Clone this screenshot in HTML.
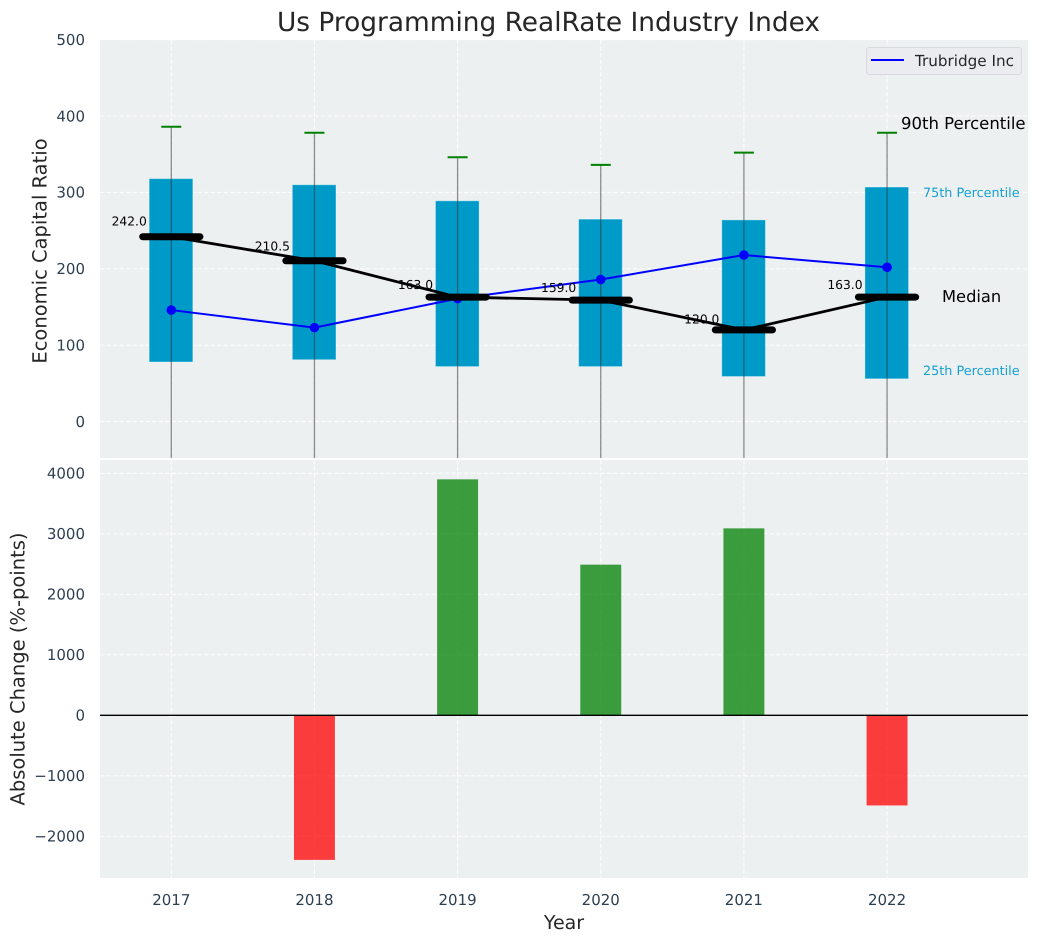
<!DOCTYPE html>
<html lang="en">
<head>
<meta charset="utf-8">
<title>Us Programming RealRate Industry Index</title>
<style>
html,body{margin:0;padding:0;background:#fff;width:1039px;height:942px;overflow:hidden}
svg{display:block;font-family:"DejaVu Sans","Liberation Sans",sans-serif;text-rendering:geometricPrecision}
</style>
</head>
<body>
<svg id="chart" xmlns="http://www.w3.org/2000/svg" width="1039" height="942" viewBox="0 0 1039 942"></svg>
<script>
const years = [2017, 2018, 2019, 2020, 2021, 2022];
const p90 = [386, 378, 346, 336, 352, 378];
const p75 = [318, 310, 289, 265, 264, 307];
const medians = [242, 210.5, 163, 159, 120, 163];
const p25 = [78, 81, 72, 72, 59, 56];
const p10 = [-60, -60, -60, -60, -60, -60];
const company = [146, 123, 161, 186, 218, 202];
const changes = [0, -2390, 3900, 2490, 3090, -1490];
const topTicks = [0, 100, 200, 300, 400, 500];
const bottomTicks = [-2000, -1000, 0, 1000, 2000, 3000, 4000];

const NS = 'http://www.w3.org/2000/svg';
const svg = document.getElementById('chart');
function make(tag, attrs, parent, text) {
  const el = document.createElementNS(NS, tag);
  for (const k in attrs) el.setAttribute(k, attrs[k]);
  if (text !== undefined) el.textContent = text;
  (parent || svg).appendChild(el);
  return el;
}
const TOP = {l: 100, r: 1028, t: 40, b: 458};
const BOT = {l: 100, r: 1028, t: 460, b: 878};
const xScale = v => 171.3 + (v - 2017) * 143.15;
const yTop = v => 421.6 - v * 0.764;
const yBot = v => 715.3 - v * 0.0605;
const TICK = '#2c3e50';

const topClip = make('clipPath', {id: 'clip-top'});
make('rect', {x: TOP.l, y: TOP.t, width: TOP.r - TOP.l, height: TOP.b - TOP.t}, topClip);

function panel(box, name, ticks, yFn, fmt) {
  const g = make('g', {});
  
  
  const bg = make('rect', {x: box.l, y: box.t, width: box.r - box.l, height: box.b - box.t, fill: '#ecf0f1'}, g);
  
  
  ticks.forEach(t => {
    const line = make('line', {x1: box.l, x2: box.r, y1: yFn(t), y2: yFn(t), stroke: '#fff', 'stroke-width': 1.1, 'stroke-dasharray': '4.5 2', 'stroke-opacity': 0.85}, g);
    
    
    const label = make('text', {x: 85, y: yFn(t) + 5.3, 'text-anchor': 'end', 'font-size': 15, fill: TICK}, g, fmt(t));
    
    
  });
  years.forEach(y => {
    const line = make('line', {x1: xScale(y), x2: xScale(y), y1: box.t, y2: box.b, stroke: '#fff', 'stroke-width': 1.1, 'stroke-dasharray': '4.5 2', 'stroke-opacity': 0.85}, g);
    
    
  });
  return g;
}
const fmtTick = t => String(t).replace('-', '\u2212');
panel(TOP, 'percentile-panel', topTicks, yTop, fmtTick);
panel(BOT, 'change-panel', bottomTicks, yBot, fmtTick);

/* Boxes */
const BOX_W = 0.305;
years.forEach((y, i) => {
  const box = make('rect', {
    x: xScale(y - BOX_W / 2) - 0.3, width: xScale(BOX_W) - xScale(0),
    y: yTop(p75[i]), height: yTop(p25[i]) - yTop(p75[i]),
    fill: '#009ac9', stroke: '#ffffff', 'stroke-opacity': 0.35, 'stroke-width': 1
  });
  
  
});
/* Whiskers and caps */
years.forEach((y, i) => {
  const w = make('line', {x1: xScale(y), x2: xScale(y), y1: yTop(p90[i]), y2: yTop(p10[i]), stroke: '#333', 'stroke-opacity': 0.55, 'stroke-width': 1.3, 'clip-path': 'url(#clip-top)'});
  
  
  const c = make('line', {x1: xScale(y) - 10, x2: xScale(y) + 10, y1: yTop(p90[i]), y2: yTop(p90[i]), stroke: 'green', 'stroke-width': 2});
  
  
});
/* Company series */
const companyLine = make('polyline', {points: years.map((y, i) => xScale(y) + ',' + yTop(company[i])).join(' '), fill: 'none', stroke: '#0000ff', 'stroke-width': 2});


years.forEach((y, i) => {
  const p = make('circle', {cx: xScale(y), cy: yTop(company[i]), r: 4.8, fill: '#0000ff'});
  
  
});
/* Median */
const medianLine = make('polyline', {points: years.map((y, i) => xScale(y) + ',' + yTop(medians[i])).join(' '), fill: 'none', stroke: '#000', 'stroke-width': 2.8});


years.forEach((y, i) => {
  const m = make('line', {x1: xScale(y) - 28.6, x2: xScale(y) + 28.6, y1: yTop(medians[i]), y2: yTop(medians[i]), stroke: '#000', 'stroke-width': 7, 'stroke-linecap': 'round'});
  
  
  const t = make('text', {x: xScale(y) - 24.5, y: yTop(medians[i] * 1.055 + 7.5) + 4.5, 'text-anchor': 'end', 'font-size': 12.3, fill: '#000'}, svg, medians[i].toFixed(1));
  
  
});
/* Change bars */
const BAR_W = 0.286;
years.forEach((y, i) => {
  if (changes[i] === 0) return;
  const v = changes[i];
  const bar = make('rect', {
    x: xScale(y - BAR_W / 2), width: xScale(BAR_W) - xScale(0),
    y: Math.min(yBot(v), yBot(0)), height: Math.abs(yBot(v) - yBot(0)),
    fill: v > 0 ? '#008000' : '#ff0000', 'fill-opacity': 0.75
  });
  
  
});
const zero = make('line', {x1: BOT.l, x2: BOT.r, y1: yBot(0), y2: yBot(0), stroke: '#000', 'stroke-width': 1.4});


/* X tick labels */
years.forEach(y => {
  const t = make('text', {x: xScale(y), y: 905, 'text-anchor': 'middle', 'font-size': 15, fill: TICK}, svg, String(y));
  
  
});
</script>
<script>
(function () {
  const s = document.getElementById('chart');
  function label(name, attrs, text) {
    const el = document.createElementNS('http://www.w3.org/2000/svg', 'text');
    for (const k in attrs) el.setAttribute(k, attrs[k]);
    el.textContent = text;
    
    
    s.appendChild(el);
  }
  label('chart-title', {x: 548.5, y: 31, 'text-anchor': 'middle', 'font-size': 26.4, fill: '#262626'}, 'Us Programming RealRate Industry Index');
  label('x-axis-title', {x: 564, y: 929, 'text-anchor': 'middle', 'font-size': 19, fill: '#262626'}, 'Year');
  label('y-axis-title-top', {transform: 'translate(46.5,251) rotate(-90)', 'text-anchor': 'middle', 'font-size': 19.5, fill: '#262626'}, 'Economic Capital Ratio');
  label('y-axis-title-bottom', {transform: 'translate(24.5,669) rotate(-90)', 'text-anchor': 'middle', 'font-size': 19.5, fill: '#262626'}, 'Absolute Change (%-points)');
  label('p90-annotation', {x: 901, y: 129, 'font-size': 16.5, fill: '#000'}, '90th Percentile');
  label('p75-annotation', {x: 923, y: 197, 'font-size': 12.8, fill: '#14a0d0'}, '75th Percentile');
  label('median-annotation', {x: 942, y: 302, 'font-size': 16.3, fill: '#000'}, 'Median');
  label('p25-annotation', {x: 923, y: 375, 'font-size': 12.8, fill: '#14a0d0'}, '25th Percentile');
  const NSP = 'http://www.w3.org/2000/svg';
  const g = document.createElementNS(NSP, 'g');
  
  
  s.appendChild(g);
  const r = document.createElementNS(NSP, 'rect');
  r.setAttribute('x', 866.5); r.setAttribute('y', 47.5); r.setAttribute('width', 155); r.setAttribute('height', 27);
  r.setAttribute('rx', 2.5); r.setAttribute('fill', '#eaecf0'); r.setAttribute('stroke', '#d8dadd');
  g.appendChild(r);
  const l = document.createElementNS(NSP, 'line');
  l.setAttribute('x1', 871); l.setAttribute('x2', 904); l.setAttribute('y1', 60); l.setAttribute('y2', 60);
  l.setAttribute('stroke', '#0000ff'); l.setAttribute('stroke-width', 2);
  g.appendChild(l);
  const t = document.createElementNS(NSP, 'text');
  t.setAttribute('x', 915); t.setAttribute('y', 66); t.setAttribute('font-size', 15.2); t.setAttribute('fill', '#262626');
  t.textContent = 'Trubridge Inc';
  g.appendChild(t);
})();
</script>
</body>
</html>
